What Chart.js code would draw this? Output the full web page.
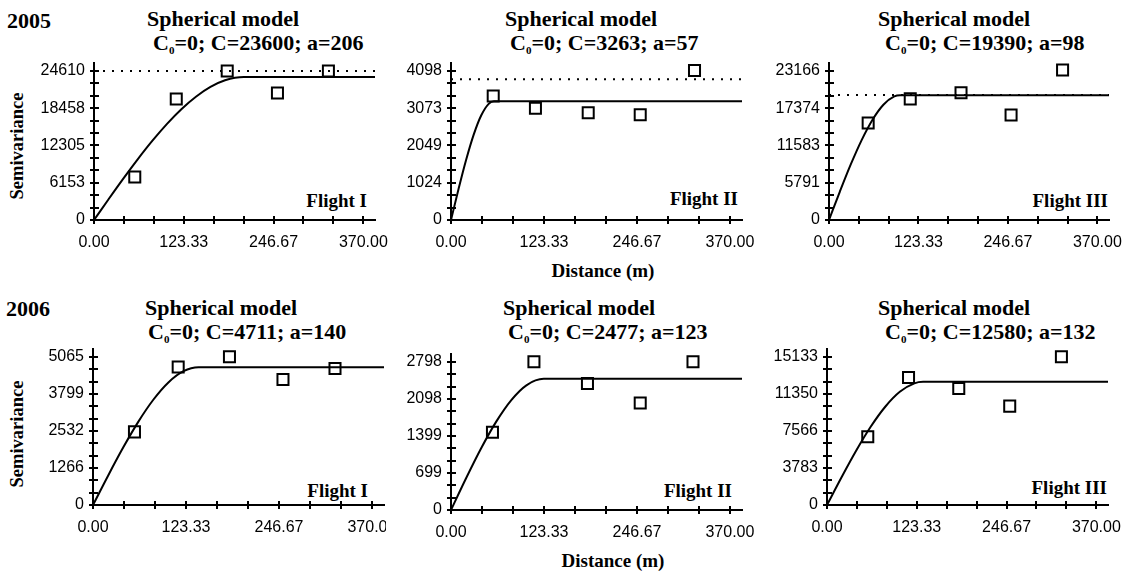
<!DOCTYPE html>
<html>
<head>
<meta charset="utf-8">
<script src="https://cdn.jsdelivr.net/npm/chart.js@4.4.0/dist/chart.umd.min.js"></script>
<style>
    body { margin: 0; width: 1132px; height: 572px; background: #fff; position: relative; overflow: hidden; }
    canvas { position: absolute; }
    .t { position: absolute; font-family: 'Liberation Serif', 'Times New Roman', serif; font-weight: bold; color: #000; line-height: 1; white-space: pre; }
    .title { font-size: 22px; }
    .year { font-size: 22px; }
    .flight { font-size: 19px; }
    .axis { font-size: 19px; transform: translateX(-50%); }
    .semi { font-size: 18.5px; transform: translate(-50%, -50%) rotate(-90deg); }
    .sub { font-size: 11px; position: relative; top: 4px; }
</style>
</head>
<body>
<div class="t year" style="left:7px;top:10px">2005</div>
<div class="t year" style="left:6px;top:298px">2006</div>

<div class="t title" style="left:147px;top:8px">Spherical model</div>
<div class="t title" style="left:153px;top:32px">C<span class="sub">0</span>=0; C=23600; a=206</div>
<div class="t title" style="left:505px;top:8px">Spherical model</div>
<div class="t title" style="left:510px;top:32px">C<span class="sub">0</span>=0; C=3263; a=57</div>
<div class="t title" style="left:878px;top:8px">Spherical model</div>
<div class="t title" style="left:885px;top:32px">C<span class="sub">0</span>=0; C=19390; a=98</div>
<div class="t title" style="left:145px;top:297px">Spherical model</div>
<div class="t title" style="left:148px;top:321px">C<span class="sub">0</span>=0; C=4711; a=140</div>
<div class="t title" style="left:503px;top:297px">Spherical model</div>
<div class="t title" style="left:508px;top:321px">C<span class="sub">0</span>=0; C=2477; a=123</div>
<div class="t title" style="left:878px;top:297px">Spherical model</div>
<div class="t title" style="left:885px;top:321px">C<span class="sub">0</span>=0; C=12580; a=132</div>

<div class="t semi" style="left:17px;top:146px">Semivariance</div>
<div class="t semi" style="left:17px;top:434px">Semivariance</div>
<div class="t axis" style="left:603px;top:261px">Distance (m)</div>
<div class="t axis" style="left:613px;top:551px">Distance (m)</div>

<div class="t flight" style="right:765px;top:191px">Flight I</div>
<div class="t flight" style="right:394px;top:189px">Flight II</div>
<div class="t flight" style="right:24px;top:191px">Flight III</div>
<div class="t flight" style="right:764px;top:481px">Flight I</div>
<div class="t flight" style="right:400px;top:481px">Flight II</div>
<div class="t flight" style="right:25px;top:478px">Flight III</div>

<canvas id="c1"></canvas>
<canvas id="c2"></canvas>
<canvas id="c3"></canvas>
<canvas id="c4"></canvas>
<canvas id="c5"></canvas>
<canvas id="c6"></canvas>

<script>
// distance axis, shared by every panel
const xTickValues = [0, 123.33, 246.67, 370];
const xTickLabels = ['0.00', '123.33', '246.67', '370.00'];

// 2005, Flight I
const lag05a = [56, 113, 183, 252, 322];
const gamma05a = [7100, 19990, 24610, 20980, 24610];
const fitH05a = [0, 20, 40, 60, 80, 100, 120, 140, 160, 180, 206, 386];
const fitG05a = [0, 3426, 6788, 10020, 13056, 15835, 18290, 20355, 21965, 23060, 23600, 23600];
const yTicks05a = [0, 6153, 12305, 18458, 24610];

// 2005, Flight II
const lag05b = [56, 112, 182, 251, 323];
const gamma05b = [3410, 3070, 2950, 2890, 4110];
const fitH05b = [0, 10, 20, 30, 40, 50, 57, 386];
const fitG05b = [0, 850, 1647, 2338, 2871, 3192, 3263, 3263];
const yTicks05b = [0, 1024, 2049, 3073, 4098];

// 2005, Flight III
const lag05c = [54, 112, 182, 251, 322];
const gamma05c = [15060, 18820, 19760, 16310, 23300];
const fitH05c = [0, 15, 30, 45, 60, 75, 90, 98, 386];
const fitG05c = [0, 4417, 8626, 12417, 15584, 17914, 19202, 19390, 19390];
const yTicks05c = [0, 5791, 11583, 17374, 23166];

// dotted sample variance lines (2005 only)
const sampleVar05 = [24610, 3870, 19420];

// 2006, Flight I
const lag06a = [55, 113, 181, 252, 321];
const gamma06a = [2500, 4720, 5065, 4290, 4670];
const fitH06a = [0, 20, 40, 60, 80, 100, 120, 140, 386];
const fitG06a = [0, 1003, 1964, 2843, 3598, 4189, 4574, 4711, 4711];
const yTicks06a = [0, 1266, 2532, 3799, 5065];

// 2006, Flight II
const lag06b = [55, 110, 181, 251, 321];
const gamma06b = [1470, 2798, 2390, 2020, 2798];
const fitH06b = [0, 20, 40, 60, 80, 100, 123, 386];
const fitG06b = [0, 599, 1166, 1669, 2076, 2355, 2477, 2477];
const yTicks06b = [0, 699, 1399, 2098, 2798];

// 2006, Flight III
const lag06c = [56, 112, 181, 251, 322];
const gamma06c = [6970, 13030, 11910, 10100, 15133];
const fitH06c = [0, 20, 40, 60, 80, 100, 120, 132, 386];
const fitG06c = [0, 2837, 5543, 7987, 10036, 11561, 12429, 12580, 12580];
const yTicks06c = [0, 3783, 7566, 11350, 15133];

const X_MAX = 386;
const Y_PAD = 1.053;
const Y_AXIS_W = 70;
const X_AXIS_H = 38;
const TOP_PAD = 12;

// every labelled tick gets two minor ticks between it and the next one
const withMinors = (major) => {
    const out = [];
    for (let i = 0; i < major.length - 1; i++) {
        const step = (major[i + 1] - major[i]) / 3;
        out.push(major[i], major[i] + step, major[i] + 2 * step);
    }
    out.push(major[major.length - 1]);
    return out;
};

// tick marks that cross the axis line, like the original software draws them
const crossTicks = {
    id: 'crossTicks',
    afterDraw(chart) {
        const { ctx, scales: { x, y } } = chart;
        const ax = x.getPixelForValue(0);
        const ay = y.getPixelForValue(0);
        ctx.save();
        ctx.strokeStyle = '#000';
        ctx.lineWidth = 2;
        ctx.beginPath();
        x.ticks.forEach(t => {
            const px = Math.round(x.getPixelForValue(t.value));
            ctx.moveTo(px, ay - 4);
            ctx.lineTo(px, ay + 4);
        });
        y.ticks.forEach(t => {
            const py = Math.round(y.getPixelForValue(t.value));
            ctx.moveTo(ax - 4, py);
            ctx.lineTo(ax + 5, py);
        });
        ctx.stroke();
        ctx.restore();
    }
};

// labels may overhang the plot edge, the canvas clips them like the original
const noEdgePadding = (s) => {
    s.paddingLeft = 0;
    s.paddingRight = 0;
    s.paddingTop = 0;
    s.paddingBottom = 0;
};

const createPanel = (id, box, lag, gamma, fitH, fitG, yTicks, sampleVar) => {
    const canvas = document.getElementById(id);
    const cLeft = Math.round(box.left - Y_AXIS_W);
    const cTop = Math.round(box.top - TOP_PAD);
    const width = box.canvasRight - cLeft;
    const height = Math.round(box.bottom - cTop + X_AXIS_H);
    canvas.style.left = cLeft + 'px';
    canvas.style.top = cTop + 'px';
    canvas.width = width;
    canvas.height = height;

    const datasets = [{
        data: fitH.map((h, i) => ({ x: h, y: fitG[i] })),
        showLine: true,
        borderColor: '#000',
        borderWidth: 2,
        pointRadius: 0,
        cubicInterpolationMode: 'monotone'
    }, {
        data: lag.map((h, i) => ({ x: h, y: gamma[i] })),
        showLine: false,
        pointStyle: 'rect',
        pointRadius: 7.8,
        borderColor: '#000',
        borderWidth: 2,
        backgroundColor: 'rgba(0,0,0,0)'
    }];
    if (sampleVar !== undefined) {
        datasets.push({
            data: [{ x: 0, y: sampleVar }, { x: X_MAX, y: sampleVar }],
            showLine: true,
            borderColor: '#000',
            borderWidth: 2,
            borderDash: [2, 7],
            pointRadius: 0
        });
    }

    const tickFont = { family: "'Liberation Sans', Arial, sans-serif", size: 16 };
    const xTicks = withMinors(xTickValues);
    const yAll = withMinors(yTicks);

    return new Chart(canvas, {
        type: 'scatter',
        data: { datasets },
        options: {
            responsive: false,
            animation: false,
            layout: {
                autoPadding: false,
                padding: { left: 0, top: TOP_PAD, right: box.canvasRight - box.right, bottom: 0 }
            },
            plugins: {
                legend: { display: false },
                tooltip: { enabled: false }
            },
            scales: {
                x: {
                    type: 'linear',
                    min: 0,
                    max: X_MAX,
                    afterBuildTicks: s => { s.ticks = xTicks.map(v => ({ value: v })); },
                    afterFit: s => { s.height = X_AXIS_H; noEdgePadding(s); },
                    ticks: {
                        autoSkip: false,
                        maxRotation: 0,
                        padding: 13,
                        color: '#000',
                        font: tickFont,
                        callback: (v, i) => (i % 3 === 0 ? xTickLabels[i / 3] : '')
                    },
                    grid: { display: false, drawTicks: false },
                    border: { display: true, color: '#000', width: 2 }
                },
                y: {
                    type: 'linear',
                    min: 0,
                    max: yTicks[yTicks.length - 1] * Y_PAD,
                    afterBuildTicks: s => { s.ticks = yAll.map(v => ({ value: v })); },
                    afterFit: s => { s.width = Y_AXIS_W; noEdgePadding(s); },
                    ticks: {
                        autoSkip: false,
                        padding: 9,
                        color: '#000',
                        font: tickFont,
                        callback: (v, i) => (i % 3 === 0 ? String(yTicks[i / 3]) : '')
                    },
                    grid: { display: false, drawTicks: false },
                    border: { display: true, color: '#000', width: 2 }
                }
            }
        },
        plugins: [crossTicks]
    });
};

createPanel('c1', { left: 94, right: 375, top: 63, bottom: 220, canvasRight: 392 },
    lag05a, gamma05a, fitH05a, fitG05a, yTicks05a, sampleVar05[0]);
createPanel('c2', { left: 451, right: 742, top: 63, bottom: 220, canvasRight: 770 },
    lag05b, gamma05b, fitH05b, fitG05b, yTicks05b, sampleVar05[1]);
createPanel('c3', { left: 829, right: 1109, top: 63, bottom: 220, canvasRight: 1132 },
    lag05c, gamma05c, fitH05c, fitG05c, yTicks05c, sampleVar05[2]);
createPanel('c4', { left: 93, right: 384, top: 349, bottom: 505, canvasRight: 386 },
    lag06a, gamma06a, fitH06a, fitG06a, yTicks06a);
createPanel('c5', { left: 451, right: 742, top: 353.5, bottom: 510, canvasRight: 770 },
    lag06b, gamma06b, fitH06b, fitG06b, yTicks06b);
createPanel('c6', { left: 827, right: 1108, top: 349, bottom: 505, canvasRight: 1132 },
    lag06c, gamma06c, fitH06c, fitG06c, yTicks06c);
</script>
</body>
</html>
